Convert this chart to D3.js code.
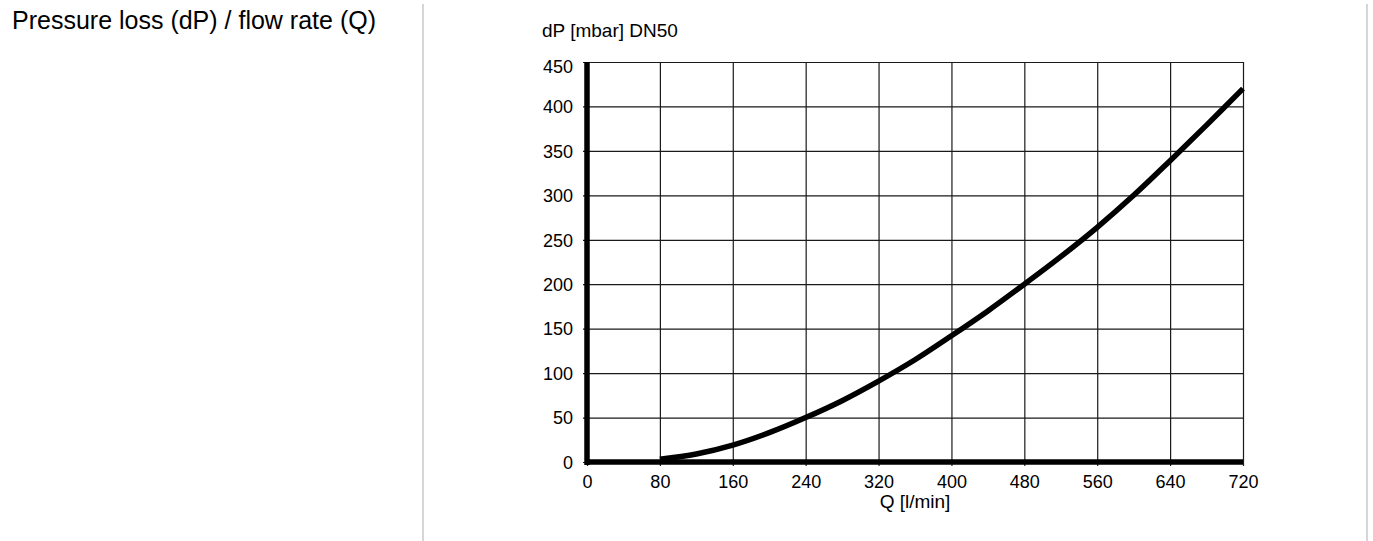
<!DOCTYPE html>
<html>
<head>
<meta charset="utf-8">
<script src="https://cdn.jsdelivr.net/npm/d3@7"></script>
<style>
  body { margin: 0; background: #fff; }
  text { font-family: "Liberation Sans", Arial, sans-serif; fill: #000; }
</style>
</head>
<body>
<div id="chart"></div>
<script>
// data
var flowTicks = [0, 80, 160, 240, 320, 400, 480, 560, 640, 720];
var dpTicks = [0, 50, 100, 150, 200, 250, 300, 350, 400, 450];
var flowQ = [80, 120, 160, 200, 240, 280, 320, 360, 400, 440, 480, 520, 560, 600, 640, 680, 720];
var dropDP = [3, 9, 19, 33, 50, 69, 91, 115, 142, 170, 200, 231, 264, 300, 339, 379, 420];

var W = 1373, H = 541;
var svg = d3.select("#chart").append("svg")
  .attr("width", W)
  .attr("height", H);

svg.append("text")
  .attr("x", 12)
  .attr("y", 29)
  .style("font-size", "25px")
  .text("Pressure loss (dP) / flow rate (Q)");

// separators
svg.append("line").attr("x1", 423).attr("x2", 423).attr("y1", 4).attr("y2", H)
  .attr("stroke", "#c8c8c8").attr("stroke-width", 1.5);
svg.append("line").attr("x1", 1367).attr("x2", 1367).attr("y1", 4).attr("y2", H)
  .attr("stroke", "#c8c8c8").attr("stroke-width", 1.5);

var x = d3.scaleLinear().domain([0, 720]).range([587, 1243]);
var y = d3.scaleLinear().domain([0, 450]).range([462, 62]);

var g = svg.append("g");

// grid + x ticks
var xa = g.append("g")
  .attr("transform", "translate(0," + y(0) + ")")
  .call(d3.axisBottom(x).tickValues(flowTicks).tickSize(-(y(0) - y(450))).tickSizeOuter(0));
xa.select(".domain").remove();
xa.selectAll(".tick line").attr("stroke", "#1a1a1a").attr("stroke-width", 1.2)
  .attr("y2", -(y(0) - y(450))).attr("y1", 4);
xa.selectAll("text").style("font-size", "18px").attr("y", 26).attr("dy", 0);

var ya = g.append("g")
  .attr("transform", "translate(" + x(0) + ",0)")
  .call(d3.axisLeft(y).tickValues(dpTicks).tickSize(-(x(720) - x(0))).tickSizeOuter(0).tickPadding(14));
ya.select(".domain").remove();
ya.selectAll(".tick line").attr("stroke", "#1a1a1a").attr("stroke-width", 1.2)
  .attr("x1", -4);
ya.selectAll("text").style("font-size", "18px")
  .attr("dy", function(d) { return d === 450 ? "0.6em" : "0.35em"; });

// heavy axes
g.append("line").attr("x1", x(0)).attr("x2", x(0)).attr("y1", y(450)).attr("y2", y(0) + 3)
  .attr("stroke", "#000").attr("stroke-width", 5.5);
g.append("line").attr("x1", x(0)).attr("x2", x(720)).attr("y1", y(0)).attr("y2", y(0))
  .attr("stroke", "#000").attr("stroke-width", 5.5);

// curve
var pts = flowQ.map(function(q, i) { return [q, dropDP[i]]; });
var line = d3.line()
  .x(function(d) { return x(d[0]); })
  .y(function(d) { return y(d[1]); })
  .curve(d3.curveCatmullRom);
g.append("path")
  .datum(pts)
  .attr("d", line)
  .attr("fill", "none")
  .attr("stroke", "#000")
  .attr("stroke-width", 5.5);

// axis titles
svg.append("text").attr("x", 542).attr("y", 37).style("font-size", "19px").text("dP [mbar] DN50");
svg.append("text").attr("x", (x(0) + x(720)) / 2).attr("y", 508)
  .attr("text-anchor", "middle").style("font-size", "19px").text("Q [l/min]");
</script>
</body>
</html>
